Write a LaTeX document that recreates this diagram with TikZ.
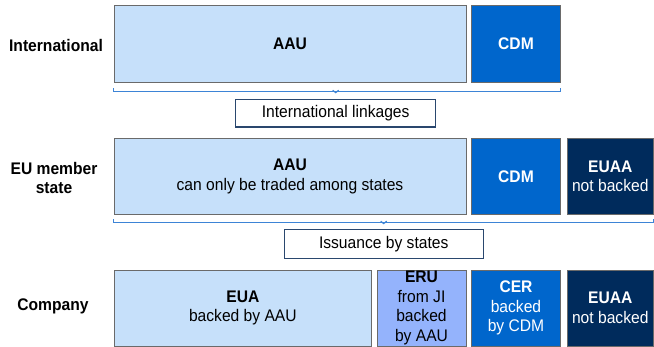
\documentclass[tikz,border=0pt]{standalone}
\usepackage{fontspec}
\setmainfont{Liberation Sans}[FakeStretch=0.93]
\usetikzlibrary{calc}
\definecolor{lightcell}{HTML}{C6E0FA}
\definecolor{cdmblue}{HTML}{0066CC}
\definecolor{navycell}{HTML}{002B5C}
\definecolor{erublue}{HTML}{94B3FC}
\definecolor{cellborder}{HTML}{6A6A6A}
\definecolor{bracketblue}{HTML}{3D84D6}
\definecolor{tagborder}{HTML}{2A476E}
\begin{document}
\begin{tikzpicture}[x=1pt,y=-1pt,
  every node/.style={font=\fontsize{16.8}{19.4}\selectfont, inner sep=0pt, align=center},
  cell/.style={draw=cellborder, line width=0.9pt, anchor=center},
  light/.style={cell, fill=lightcell, text=black},
  mid/.style={cell, fill=cdmblue, text=white},
  dark/.style={cell, fill=navycell, text=white},
  eru/.style={cell, fill=erublue, text=black},
  rowlabel/.style={font=\fontsize{16.8}{19.4}\selectfont\bfseries},
  tag/.style={draw=tagborder, line width=1.1pt, fill=white},
  bracket/.style={draw=bracketblue, line width=1.1pt}
]
\useasboundingbox[fill=white] (0,0) rectangle (654,347);

% row labels
\node[rowlabel] (lint) at (56,45) {International};
\node[rowlabel] (leu) at (54,178) {EU member\\state};
\node[rowlabel] (lcomp) at (53,306) {Company};

% row 1
\node[light, minimum width=352, minimum height=76.5] (aau1) at (290,43.75) {\textbf{AAU}};
\node[mid, minimum width=88.5, minimum height=76.5] (cdm1) at (516,43.75) {\textbf{CDM}};

% row 2
\node[light, minimum width=352, minimum height=76.5] (aau2) at (290,176.5) {\textbf{AAU}\\can only be traded among states};
\node[mid, minimum width=88.5, minimum height=76.5] (cdm2) at (516,176.5) {\textbf{CDM}};
\node[dark, minimum width=86.5, minimum height=76.5] (euaa2) at (610.25,176.5) {\textbf{EUAA}\\not backed};

% row 3
\node[light, minimum width=257.7, minimum height=76] (eua3) at (242.85,308) {\textbf{EUA}\\backed by AAU};
\node[eru, minimum width=89, minimum height=76] (eru3) at (421.5,308) {\textbf{ERU}\\from JI\\backed\\by AAU};
\node[mid, minimum width=88.5, minimum height=76] (cer3) at (516,308) {\textbf{CER}\\backed\\by CDM};
\node[dark, minimum width=86.5, minimum height=76] (euaa3) at (610.25,308) {\textbf{EUAA}\\not backed};

% tags
\node[tag, minimum width=200, minimum height=27.7] (tag1) at (335.7,113.2) {International linkages};
\node[tag, minimum width=199.3, minimum height=29] (tag2) at (383.7,243.8) {Issuance by states};

% brackets
\draw[bracket] ($(aau1.south west)+(0,6)$) -- ++(0,2.7) -- ($(cdm1.south east)+(0,8.7)$) -- ++(0,-2.7);
\draw[bracket] ($(tag1.north)+(-3,-8.6)$) -- ++(3,2.5) -- ++(3,-2.5);
\draw[bracket] ($(aau2.south west)+(0,4.3)$) -- ++(0,2.7) -- ($(euaa2.south east)+(0,7)$) -- ++(0,-2.7);
\draw[bracket] ($(tag2.north)+(-3,-7.6)$) -- ++(3,2.5) -- ++(3,-2.5);
\end{tikzpicture}
\end{document}
